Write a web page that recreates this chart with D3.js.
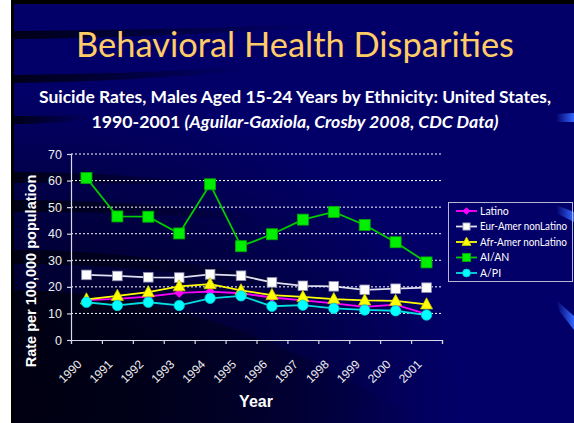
<!DOCTYPE html>
<html>
<head>
<meta charset="utf-8">
<script src="https://cdn.jsdelivr.net/npm/d3@7"></script>
<style>
  html, body { margin: 0; padding: 0; background: #fff; }
  svg { display: block; }
</style>
</head>
<body>
<div id="chart"></div>
<script>
const years = ['1990','1991','1992','1993','1994','1995','1996','1997','1998','1999','2000','2001'];
const latino  = [15.0, 15.5, 16.3, 17.7, 18.2, 17.6, 16.0, 14.9, 13.8, 12.5, 13.3, 9.7];
const eurAmer = [24.5, 24.1, 23.6, 23.5, 24.7, 24.2, 21.7, 20.4, 20.2, 18.9, 19.3, 19.7];
const afrAmer = [15.3, 16.6, 18.0, 20.2, 21.0, 18.7, 16.9, 16.2, 15.4, 14.9, 14.7, 13.4];
const aian    = [61.0, 46.5, 46.4, 40.1, 58.6, 35.3, 39.8, 45.3, 48.2, 43.3, 36.8, 29.2];
const api     = [14.2, 13.0, 14.2, 13.0, 15.7, 16.6, 12.7, 13.1, 11.9, 11.3, 11.0, 9.4];
const seriesNames = ['Latino', 'Eur-Amer nonLatino', 'Afr-Amer nonLatino', 'AI/AN', 'A/PI'];
const yTicks = [0, 10, 20, 30, 40, 50, 60, 70];

const width = 574, height = 423;
const svg = d3.select('#chart').append('svg').attr('width', width).attr('height', height);
const defs = svg.append('defs');

// background
const fade = defs.append('linearGradient').attr('id', 'fade').attr('x1', 0).attr('x2', 1).attr('y1', 0).attr('y2', 0);
fade.append('stop').attr('offset', 0).attr('stop-color', '#000010').attr('stop-opacity', 0.9);
fade.append('stop').attr('offset', 1).attr('stop-color', '#000010').attr('stop-opacity', 0);
const corner = defs.append('radialGradient').attr('id', 'corner').attr('cx', 0.05).attr('cy', 0.95).attr('r', 0.75);
corner.append('stop').attr('offset', 0).attr('stop-color', '#000018').attr('stop-opacity', 0.95);
corner.append('stop').attr('offset', 0.6).attr('stop-color', '#000018').attr('stop-opacity', 0.5);
corner.append('stop').attr('offset', 1).attr('stop-color', '#000018').attr('stop-opacity', 0);
const accent = defs.append('linearGradient').attr('id', 'accent').attr('x1', 0).attr('x2', 1);
accent.append('stop').attr('offset', 0).attr('stop-color', '#3366ff').attr('stop-opacity', 0);
accent.append('stop').attr('offset', 1).attr('stop-color', '#3366ff').attr('stop-opacity', 1);

svg.append('rect').attr('x', 11).attr('y', 0).attr('width', width - 11).attr('height', height).attr('fill', '#000000');
const bg = svg.append('g');
bg.append('rect').attr('x', 14).attr('y', 4).attr('width', width - 14).attr('height', height - 4).attr('fill', '#020068');
bg.append('rect').attr('x', 14).attr('y', 4).attr('width', width - 14).attr('height', height - 4).attr('fill', 'url(#corner)');
// dark swooshes
const swooshes = [
  'M14,31 C120,30 220,28 320,24 L320,27 C220,33 120,38 14,39 Z',
  'M14,75 C90,74 170,72 250,66 L250,70 C170,78 90,82 14,83 Z',
  'M14,116 C40,116 60,116 90,115 L90,119 C60,122 40,124 14,124 Z',
  'M14,172 C80,172 140,176 200,182 L200,186 C140,184 80,182 14,183 Z',
  'M14,200 C100,200 180,206 260,216 L260,222 C180,214 100,212 14,212 Z',
  'M14,250 C110,250 210,262 330,292 L330,298 C210,272 110,264 14,264 Z',
  'M14,290 C150,292 280,330 420,423 L14,423 Z'
];
bg.selectAll('path.sw').data(swooshes).enter().append('path').attr('class', 'sw')
  .attr('d', d => d).attr('fill', 'url(#fade)');
// right side accents
bg.append('path').attr('d', 'M556,114 L574,113 L574,122 L556,122 Z').attr('fill', 'url(#accent)');
bg.append('path').attr('d', 'M556,205 L574,212 L574,222 L558,214 Z').attr('fill', 'url(#accent)');
bg.append('path').attr('d', 'M556,300 L574,316 L574,330 L560,312 Z').attr('fill', 'url(#accent)');

// titles
svg.append('text').attr('x', 295).attr('y', 57).attr('text-anchor', 'middle')
  .attr('font-family', 'Lato, "Open Sans", sans-serif').attr('font-size', 35)
  .attr('fill', '#ffcc66').attr('textLength', 438).attr('lengthAdjust', 'spacingAndGlyphs')
  .text('Behavioral Health Disparities');
svg.append('text').attr('x', 295).attr('y', 103).attr('text-anchor', 'middle')
  .attr('font-family', 'Lato, "Open Sans", sans-serif').attr('font-size', 17).attr('font-weight', 'bold')
  .attr('fill', '#ffffff').attr('textLength', 512).attr('lengthAdjust', 'spacingAndGlyphs')
  .text('Suicide Rates, Males Aged 15-24 Years by Ethnicity: United States,');
const sub2 = svg.append('text').attr('x', 295).attr('y', 128).attr('text-anchor', 'middle')
  .attr('font-family', 'Lato, "Open Sans", sans-serif').attr('font-size', 17).attr('font-weight', 'bold')
  .attr('fill', '#ffffff').attr('textLength', 407).attr('lengthAdjust', 'spacingAndGlyphs');
sub2.append('tspan').text('1990-2001 ');
sub2.append('tspan').attr('font-style', 'italic').text('(Aguilar-Gaxiola, Crosby 2008, CDC Data)');

// scales
const x = d3.scaleBand().domain(years).range([71, 442]);
const xb = d3.scaleLinear().domain([0, years.length]).range([71, 442]);
const y = d3.scaleLinear().domain([0, 70]).range([340, 154]);
const cx = d => x(d) + x.bandwidth() / 2;

// grid
svg.append('g').selectAll('line').data(yTicks.filter(t => t > 0)).enter().append('line')
  .attr('x1', 71).attr('x2', 442).attr('y1', d => y(d)).attr('y2', d => y(d))
  .attr('stroke', '#ffffff').attr('stroke-width', 1).attr('stroke-dasharray', '2,2');

// axes
const gy = svg.append('g').attr('transform', 'translate(71,0)')
  .call(d3.axisLeft(y).tickValues(yTicks).tickSize(4).tickPadding(5));
gy.selectAll('text').attr('font-family', '"Liberation Sans", Arial, sans-serif').attr('font-size', 12.5).attr('fill', '#eeeeee');
const gx = svg.append('g').attr('transform', 'translate(0,340)')
  .call(d3.axisBottom(xb).ticks(years.length).tickSize(4).tickFormat(''));
[gy, gx].forEach(g => {
  g.select('.domain').attr('stroke', '#d8d8e8').attr('stroke-width', 1.2);
  g.selectAll('.tick line').attr('stroke', '#d8d8e8').attr('stroke-width', 1.2);
});
svg.append('g').selectAll('text').data(years).enter().append('text')
  .attr('transform', d => `translate(${cx(d) - 7},${362}) rotate(-45)`)
  .attr('text-anchor', 'end').attr('dy', '0.35em')
  .attr('font-family', '"Liberation Sans", Arial, sans-serif').attr('font-size', 12).attr('fill', '#eeeeee')
  .text(d => d);

svg.append('text').attr('x', 256).attr('y', 407).attr('text-anchor', 'middle')
  .attr('font-family', '"Liberation Sans", Arial, sans-serif').attr('font-size', 16).attr('font-weight', 'bold')
  .attr('fill', '#ffffff').text('Year');
svg.append('text').attr('transform', 'translate(36,271) rotate(-90)').attr('text-anchor', 'middle')
  .attr('font-family', '"Liberation Sans", Arial, sans-serif').attr('font-size', 14.5).attr('font-weight', 'bold')
  .attr('fill', '#ffffff').text('Rate per 100,000 population');

// series
const series = [
  { name: seriesNames[0], values: latino,  line: '#ff00ff', fill: '#ff00ff', stroke: '#ff00ff', shape: 'diamond', size: 4.5 },
  { name: seriesNames[1], values: eurAmer, line: '#e0e0f0', fill: '#ffffff', stroke: '#9090b0', shape: 'square', size: 4.8 },
  { name: seriesNames[2], values: afrAmer, line: '#ffff00', fill: '#ffff00', stroke: '#cccc00', shape: 'triangle', size: 6 },
  { name: seriesNames[3], values: aian,    line: '#00cc00', fill: '#00ee00', stroke: '#00aa00', shape: 'square', size: 5.5 },
  { name: seriesNames[4], values: api,     line: '#00e0e0', fill: '#00ffff', stroke: '#00cccc', shape: 'circle', size: 5.2 }
];

function marker(g, s, px, py, scale) {
  const r = s.size * (scale || 1);
  let m;
  if (s.shape === 'square') {
    m = g.append('rect').attr('x', px - r).attr('y', py - r).attr('width', 2 * r).attr('height', 2 * r);
  } else if (s.shape === 'circle') {
    m = g.append('circle').attr('cx', px).attr('cy', py).attr('r', r);
  } else if (s.shape === 'diamond') {
    m = g.append('path').attr('d', `M${px},${py - r}L${px + r},${py}L${px},${py + r}L${px - r},${py}Z`);
  } else {
    m = g.append('path').attr('d', `M${px},${py - r * 1.1}L${px + r},${py + r * 0.75}L${px - r},${py + r * 0.75}Z`);
  }
  m.attr('fill', s.fill).attr('stroke', s.stroke).attr('stroke-width', 0.8);
}

const line = d3.line().x((d, i) => cx(years[i])).y(d => y(d));
series.forEach(s => {
  const g = svg.append('g');
  g.append('path').attr('d', line(s.values)).attr('fill', 'none')
    .attr('stroke', s.line).attr('stroke-width', 1.8);
  s.values.forEach((v, i) => marker(g, s, cx(years[i]), y(v)));
});

// legend
const legend = svg.append('g');
legend.append('rect').attr('x', 448.5).attr('y', 202.5).attr('width', 124).attr('height', 79)
  .attr('fill', 'none').attr('stroke', '#b8b8d0').attr('stroke-width', 1);
series.forEach((s, i) => {
  const ly = 211 + i * 15.5;
  legend.append('line').attr('x1', 456).attr('x2', 477).attr('y1', ly).attr('y2', ly)
    .attr('stroke', s.line).attr('stroke-width', 1.8);
  marker(legend, s, 466.5, ly, 0.75);
  const t = legend.append('text').attr('x', 480).attr('y', ly).attr('dy', '0.35em')
    .attr('font-family', 'Lato, "Open Sans", sans-serif').attr('font-size', 10.5).attr('fill', '#ffffff')
    .text(s.name);
  // keep long labels inside the box
  if (t.node().getComputedTextLength() > 87) {
    t.attr('textLength', 87).attr('lengthAdjust', 'spacingAndGlyphs');
  }
});
</script>
</body>
</html>
